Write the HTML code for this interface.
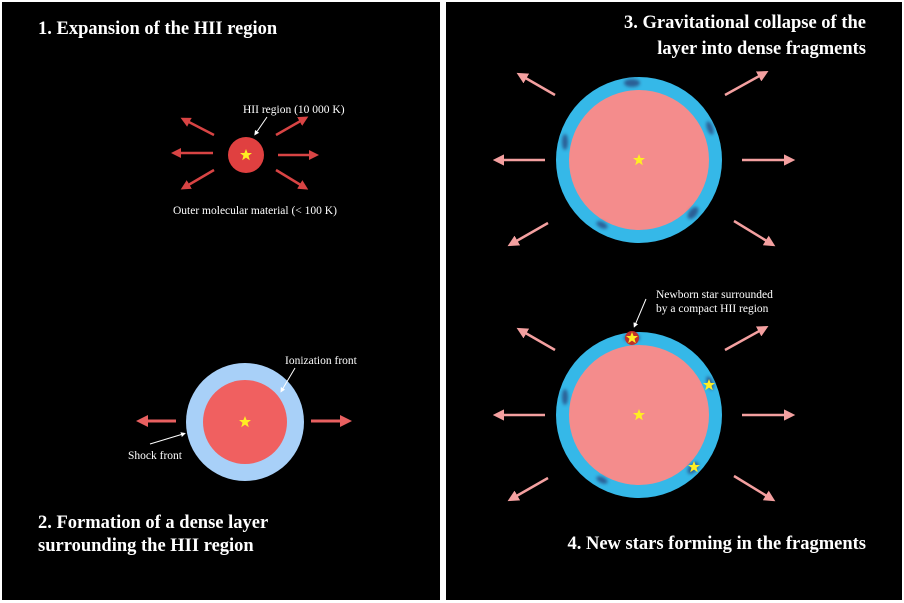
<!DOCTYPE html>
<html><head><meta charset="utf-8"><style>
html,body{margin:0;padding:0;background:#fff;width:904px;height:603px;overflow:hidden}
svg{display:block}
text{font-family:"Liberation Serif",serif;fill:#fff}
.t{font-size:18.5px;font-weight:bold}
.s{font-size:11.5px}
</style></head><body>
<svg width="904" height="603" viewBox="0 0 904 603">
<defs>
<marker id="mr" markerWidth="4" markerHeight="4" refX="2" refY="2" orient="auto" markerUnits="strokeWidth"><path d="M0,0 L4,2 L0,4 z" fill="#d84444"/></marker>
<marker id="mp" markerWidth="4.5" markerHeight="4.5" refX="2" refY="2.25" orient="auto" markerUnits="strokeWidth"><path d="M0,0 L4.5,2.25 L0,4.5 z" fill="#f4a0a0"/></marker>
<marker id="ml" markerWidth="4" markerHeight="4" refX="2" refY="2" orient="auto" markerUnits="strokeWidth"><path d="M0,0 L4,2 L0,4 z" fill="#e86060"/></marker>
<marker id="mw" markerWidth="5" markerHeight="5" refX="2" refY="2.5" orient="auto" markerUnits="strokeWidth"><path d="M0,0 L5,2.5 L0,5 z" fill="#fff"/></marker>
<filter id="bl"><feGaussianBlur stdDeviation="1.5"/></filter>
<g id="star"><polygon points="0,-6 1.6,-2 6,-2 2.5,0.8 3.8,5.2 0,2.6 -3.8,5.2 -2.5,0.8 -6,-2 -1.6,-2" fill="#ffee22"/></g>
<g id="big">
<circle cx="0" cy="0" r="83" fill="#35b8e8"/>
<circle cx="0" cy="0" r="70" fill="#f48c8c"/>
<g fill="#2a5f95" filter="url(#bl)">
<ellipse cx="-7" cy="-77" rx="8" ry="4"/>
<ellipse cx="71" cy="-32" rx="3" ry="7" transform="rotate(-20 71 -32)"/>
<ellipse cx="-74" cy="-18" rx="3" ry="8"/>
<ellipse cx="54" cy="53" rx="4" ry="7" transform="rotate(40 54 53)"/>
<ellipse cx="-37" cy="65" rx="6" ry="3" transform="rotate(25 -37 65)"/>
</g>
<use href="#star"/>
<g stroke="#f4a0a0" stroke-width="2.5" marker-end="url(#mp)">
<line x1="-84" y1="-65" x2="-117" y2="-84"/>
<line x1="86" y1="-65" x2="124" y2="-86"/>
<line x1="-94" y1="0" x2="-140" y2="0"/>
<line x1="103" y1="0" x2="150" y2="0"/>
<line x1="-91" y1="63" x2="-126" y2="83"/>
<line x1="95" y1="61" x2="131" y2="83"/>
</g>
</g>
</defs>
<rect x="2" y="2" width="438" height="598" fill="#000"/>
<rect x="446" y="2" width="456" height="598" fill="#000"/>

<text class="t" x="38" y="34">1. Expansion of the HII region</text>
<text class="t" x="866" y="28" text-anchor="end">3. Gravitational collapse of the</text>
<text class="t" x="866" y="54" text-anchor="end">layer into dense fragments</text>
<text class="t" x="38" y="528">2. Formation of a dense layer</text>
<text class="t" x="38" y="551">surrounding the HII region</text>
<text class="t" x="866" y="549" text-anchor="end">4. New stars forming in the fragments</text>

<!-- panel 1 -->
<g stroke="#d84444" stroke-width="2.5" marker-end="url(#mr)">
<line x1="213" y1="153" x2="176" y2="153"/>
<line x1="278" y1="155" x2="314" y2="155"/>
<line x1="214" y1="135" x2="185" y2="120"/>
<line x1="276" y1="135" x2="304" y2="119"/>
<line x1="214" y1="170" x2="185" y2="187"/>
<line x1="276" y1="170" x2="304" y2="187"/>
</g>
<circle cx="246" cy="155" r="18" fill="#e04040"/>
<use href="#star" x="246" y="155"/>
<line x1="267" y1="117" x2="256" y2="133" stroke="#fff" stroke-width="1" marker-end="url(#mw)"/>
<text class="s" x="243" y="113">HII region (10 000 K)</text>
<text class="s" x="173" y="214">Outer molecular material (&lt; 100 K)</text>

<!-- panel 2 -->
<g stroke="#e86060" stroke-width="3" marker-end="url(#ml)">
<line x1="176" y1="421" x2="142" y2="421"/>
<line x1="311" y1="421" x2="346" y2="421"/>
</g>
<circle cx="245" cy="422" r="59" fill="#a8d0f8"/>
<circle cx="245" cy="422" r="42" fill="#f06060"/>
<use href="#star" x="245" y="422"/>
<line x1="295" y1="368" x2="282" y2="390" stroke="#fff" stroke-width="1" marker-end="url(#mw)"/>
<text class="s" x="285" y="364">Ionization front</text>
<line x1="150" y1="444" x2="183" y2="434" stroke="#fff" stroke-width="1" marker-end="url(#mw)"/>
<text class="s" x="128" y="459">Shock front</text>

<!-- panel 3, 4 -->
<use href="#big" x="639" y="160"/>
<use href="#big" x="639" y="415"/>
<circle cx="632" cy="338" r="7" fill="#c0302a"/>
<use href="#star" x="632" y="338"/>
<use href="#star" x="709" y="385"/>
<use href="#star" x="694" y="467"/>
<line x1="646" y1="299" x2="635" y2="325" stroke="#fff" stroke-width="1" marker-end="url(#mw)"/>
<text class="s" x="656" y="298">Newborn star surrounded</text>
<text class="s" x="656" y="312">by a compact HII region</text>
</svg>
</body></html>
